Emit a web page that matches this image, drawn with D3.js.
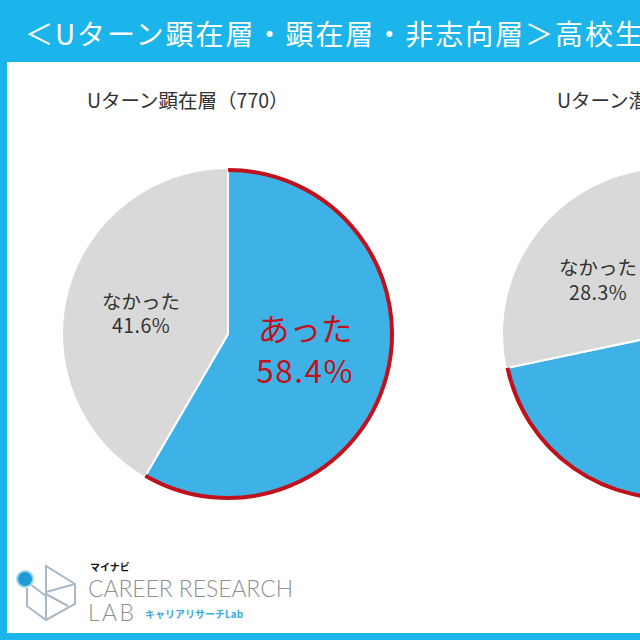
<!DOCTYPE html>
<html>
<head>
<meta charset="utf-8">
<script src="https://cdn.jsdelivr.net/npm/d3@7"></script>
<style>
  body { margin: 0; overflow: hidden; background: #1bb4eb; }
  svg { display: block; }
</style>
</head>
<body>
<div id="chart"></div>
<script>
// ----- datos
var headline = "＜Uターン顕在層・顕在層・非志向層＞高校生";
var pieTitles = ["Uターン顕在層（770）", "Uターン潜在層"];
var categories = ["あった", "なかった"];
var valuesA = [58.4, 71.7]; // あった
var valuesB = [41.6, 28.3]; // なかった

// ----- colores
var colorFondo = "#1bb4eb";
var colorAzul = "#3eb1e6";
var colorGris = "#d9d9d9";
var colorRojo = "#c0121c";
var colorTexto = "#333333";

var width = 640, height = 640;
var R = 166, cy = 334;
var titleX = [87, 557]; // inicio de cada subtítulo

var svg = d3.select("#chart").append("svg")
    .attr("width", width)
    .attr("height", height);

// marco
svg.append("rect").attr("width", width).attr("height", height).attr("fill", colorFondo);
svg.append("rect")
    .attr("x", 7).attr("y", 62)
    .attr("width", width).attr("height", 571)
    .attr("fill", "#ffffff");

svg.append("text")
    .attr("x", 25).attr("y", 45)
    .attr("fill", "#ffffff")
    .attr("font-family", "'Noto Sans CJK JP', sans-serif")
    .attr("font-size", "28px")
    .attr("textLength", 618)
    .attr("lengthAdjust", "spacing")
    .text(headline);

// posición de cada pastel
var x = d3.scaleBand().domain(pieTitles).range([8, 888]);

var pie = d3.pie().sort(null).value(function (d) { return d.value; });
var arc = d3.arc().innerRadius(0).outerRadius(R);
var borde = d3.arc().innerRadius(R - 2).outerRadius(R - 2);
var labelArc = [
    d3.arc().innerRadius(80).outerRadius(80), // あった
    d3.arc().innerRadius(90).outerRadius(90)  // なかった
];

pieTitles.forEach(function (t, i) {
    var cx = x(t) + x.bandwidth() / 2;
    var datos = [
        { cat: categories[0], value: valuesA[i] },
        { cat: categories[1], value: valuesB[i] }
    ];
    var g = svg.append("g").attr("transform", "translate(" + cx + "," + cy + ")");

    svg.append("text")
        .attr("x", titleX[i]).attr("y", 108)
        .attr("fill", colorTexto)
        .attr("font-family", "'Noto Sans CJK JP', sans-serif")
        .attr("font-size", "19.5px")
        .text(t);

    var arcos = pie(datos);

    g.selectAll("path.slice")
        .data(arcos)
        .enter()
        .append("path")
        .attr("class", "slice")
        .attr("d", arc)
        .attr("fill", function (d, j) { return j == 0 ? colorAzul : colorGris; })
        .attr("stroke", "#ffffff")
        .attr("stroke-width", 2);

    // borde rojo del sector "あった"
    g.append("path")
        .attr("d", borde(arcos[0]))
        .attr("fill", "none")
        .attr("stroke", colorRojo)
        .attr("stroke-width", 4);

    arcos.forEach(function (d, j) {
        var c = labelArc[j].centroid(d);
        var big = j == 0;
        var txt = g.append("text")
            .attr("x", c[0]).attr("y", c[1])
            .attr("text-anchor", "middle")
            .attr("fill", big ? colorRojo : colorTexto)
            .attr("font-family", "'Noto Sans CJK JP', sans-serif")
            .attr("font-size", big ? "31.5px" : "19.5px");
        txt.append("tspan").attr("x", c[0]).attr("dy", big ? "-0.45em" : "-0.1em").text(d.data.cat);
        txt.append("tspan").attr("x", c[0]).attr("dy", big ? "1.35em" : "1.25em")
            .attr("letter-spacing", big ? "1.5px" : "0.5px")
            .text(d.data.value.toFixed(1) + "%");
    });
});

// ----- logo
var logo = svg.append("g");
var lineaLogo = "#a9b8c6";
logo.append("path")
    .attr("d", "M27,588 L27,606 L46,620 L75,604 L75,584 L46,566 L46,620 M46,592 L75,584 M46,594 L68,606 M30,584 L46,596")
    .attr("fill", "none")
    .attr("stroke", lineaLogo)
    .attr("stroke-width", 2);
logo.append("circle").attr("cx", 25).attr("cy", 579).attr("r", 9).attr("fill", "#9fd7f3");
logo.append("circle").attr("cx", 25).attr("cy", 579).attr("r", 7).attr("fill", "#1f9ad6");

logo.append("text")
    .attr("x", 90).attr("y", 571)
    .attr("font-family", "'Noto Sans CJK JP', sans-serif")
    .attr("font-weight", "bold")
    .attr("font-size", "10px")
    .attr("fill", "#111")
    .text("マイナビ");
logo.append("text")
    .attr("x", 88).attr("y", 597)
    .attr("font-family", "Lato, sans-serif")
    .attr("font-weight", 300)
    .attr("font-size", "23px")
    .attr("fill", "#8f8f8f")
    .attr("textLength", 205)
    .text("CAREER RESEARCH");
logo.append("text")
    .attr("x", 88).attr("y", 621)
    .attr("font-family", "Lato, sans-serif")
    .attr("font-weight", 300)
    .attr("font-size", "23px")
    .attr("fill", "#8f8f8f")
    .attr("textLength", 46)
    .text("LAB");
logo.append("text")
    .attr("x", 145).attr("y", 618)
    .attr("font-family", "'Noto Sans CJK JP', sans-serif")
    .attr("font-weight", "bold")
    .attr("font-size", "10px")
    .attr("fill", "#3fa9dc")
    .text("キャリアリサーチLab");
</script>
</body>
</html>
